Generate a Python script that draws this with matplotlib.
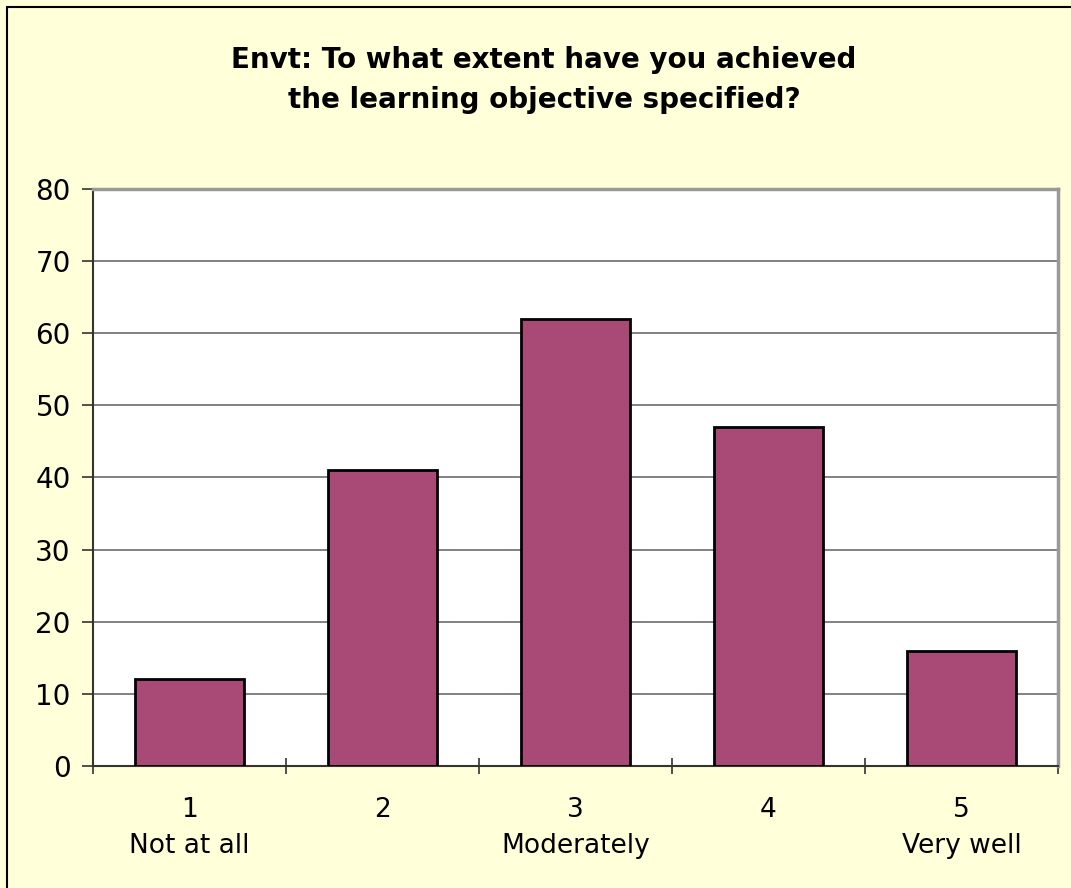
import matplotlib
matplotlib.use("Agg")
from matplotlib import pyplot as plt
from matplotlib.patches import Rectangle

categories = ["1\nNot at all", "2", "3\nModerately", "4", "5\nVery well"]
counts = [12, 41, 62, 47, 16]
yticks = [0, 10, 20, 30, 40, 50, 60, 70, 80]
title = "Envt: To what extent have you achieved\nthe learning objective specified?"

bg = "#FFFFD9"
bar_color = "#A94A76"

fig = plt.figure(figsize=(10.71, 8.88), dpi=100, facecolor=bg)
# outer frame of the chart (right/bottom edge cut off in the original)
fig.patches.append(Rectangle((7 / 1071, -0.05), 1.1, (888 - 7) / 888 + 0.05,
                             transform=fig.transFigure, fill=False,
                             edgecolor="black", linewidth=1.5))

ax = fig.add_axes([93 / 1071, (888 - 766) / 888, (1058 - 93) / 1071, (766 - 189) / 888])
ax.set_facecolor("white")

x = list(range(len(counts)))
ax.bar(x, counts, width=0.56, color=bar_color, edgecolor="black", linewidth=2, zorder=3)

ax.set_xlim(-0.5, len(counts) - 0.5)
ax.set_ylim(0, 80)
ax.set_yticks(yticks)
ax.set_yticklabels([str(v) for v in yticks], fontsize=20)
ax.yaxis.grid(True, color="#777777", linewidth=1.3, zorder=0)

# ticks on category boundaries, labels centred under each bar
ax.set_xticks([i - 0.5 for i in range(len(counts) + 1)])
ax.set_xticklabels([])
ax.set_xticks(x, minor=True)
ax.set_xticklabels(categories, minor=True, fontsize=19, linespacing=1.5)
ax.tick_params(axis="x", which="minor", length=0, pad=22)
ax.tick_params(axis="x", which="major", direction="inout", length=12, width=1.2, color="#333333")
ax.tick_params(axis="y", direction="out", length=8, width=1.2, color="#333333", pad=8)

for side in ["left", "bottom"]:
    ax.spines[side].set_color("#333333")
    ax.spines[side].set_linewidth(1.5)
for side in ["right", "top"]:
    ax.spines[side].set_color("#999999")
    ax.spines[side].set_linewidth(2.5)

fig.text(544 / 1071, 1 - 80 / 888, title, ha="center", va="center",
         fontsize=20, fontweight="bold", linespacing=1.58)

fig.savefig("out.png", dpi=100, facecolor=bg)
